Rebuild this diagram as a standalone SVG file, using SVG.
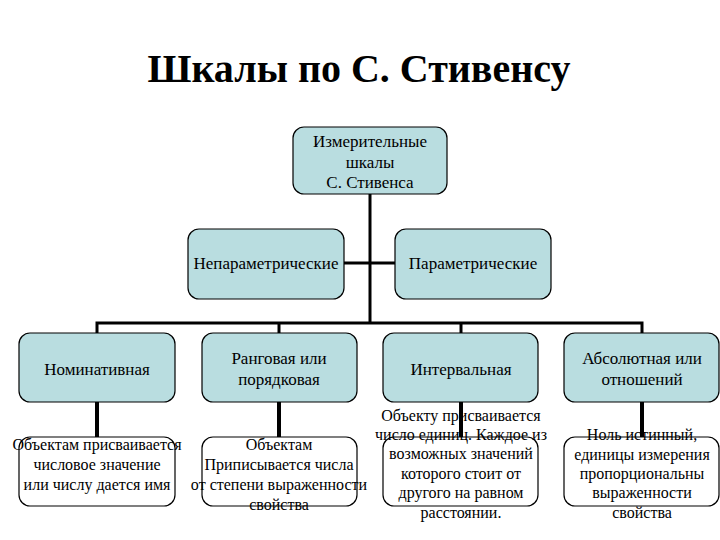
<svg xmlns="http://www.w3.org/2000/svg" width="720" height="540" viewBox="0 0 720 540">
<style>
text{font-family:'Liberation Serif','DejaVu Serif',serif;fill:#000;text-anchor:middle}
.t{font-size:40px;font-weight:bold}
.n{font-size:17px}
.d{font-size:16px}
.blue{fill:#B9DDE0;stroke:#000;stroke-width:1.2}
.white{fill:#fff;stroke:#000;stroke-width:1.2}
.c{stroke:#000;stroke-width:3;fill:none}
.c4{stroke:#000;stroke-width:4;fill:none}
</style>
<rect width="720" height="540" fill="#fff"/>
<text class="t" x="359" y="82">Шкалы по С. Стивенсу</text>
<g id="connectors">
<line class="c" x1="370" y1="194" x2="370" y2="323"/>
<line class="c" x1="344" y1="263" x2="395" y2="263"/>
<polyline class="c" points="97,333 97,323 642,323 642,333"/>
<line class="c" x1="279" y1="323" x2="279" y2="333"/>
<line class="c" x1="461" y1="323" x2="461" y2="333"/>
<line class="c4" x1="97" y1="402" x2="97" y2="437"/>
<line class="c4" x1="279" y1="402" x2="279" y2="437"/>
<line class="c4" x1="461" y1="402" x2="461" y2="437"/>
<line class="c4" x1="642" y1="402" x2="642" y2="437"/>
</g>
<g id="root">
<rect class="blue" x="293" y="127" width="154" height="67" rx="11"/>
<text class="n" x="370" y="147">Измерительные</text>
<text class="n" x="370" y="168">шкалы</text>
<text class="n" x="370" y="188">С. Стивенса</text>
</g>
<g id="nonparam">
<rect class="blue" x="188" y="229" width="156" height="70" rx="11"/>
<text class="n" x="266" y="269">Непараметрические</text>
</g>
<g id="param">
<rect class="blue" x="395" y="229" width="156" height="70" rx="11"/>
<text class="n" x="473" y="269">Параметрические</text>
</g>
<g id="nominal">
<rect class="blue" x="19" y="333" width="156" height="69" rx="11"/>
<text class="n" x="97" y="375">Номинативная</text>
</g>
<g id="rank">
<rect class="blue" x="202" y="333" width="155" height="69" rx="11"/>
<text class="n" x="279" y="364">Ранговая или</text>
<text class="n" x="279" y="385">порядковая</text>
</g>
<g id="interval">
<rect class="blue" x="383" y="333" width="155" height="69" rx="11"/>
<text class="n" x="461" y="375">Интервальная</text>
</g>
<g id="absolute">
<rect class="blue" x="564" y="333" width="155" height="69" rx="11"/>
<text class="n" x="642" y="364">Абсолютная или</text>
<text class="n" x="642" y="385">отношений</text>
</g>
<g id="nominal-desc">
<rect class="white" x="19" y="437" width="156" height="69" rx="11"/>
<text class="d" x="97" y="450">Объектам присваивается</text>
<text class="d" x="97" y="470">числовое значение</text>
<text class="d" x="97" y="490">или числу дается имя</text>
</g>
<g id="rank-desc">
<rect class="white" x="202" y="437" width="155" height="69" rx="11"/>
<text class="d" x="279" y="450">Объектам</text>
<text class="d" x="279" y="470">Приписывается числа</text>
<text class="d" x="279" y="490">от степени выраженности</text>
<text class="d" x="279" y="510">свойства</text>
</g>
<g id="interval-desc">
<rect class="white" x="383" y="437" width="155" height="69" rx="11"/>
<text class="d" x="461" y="421">Объекту присваивается</text>
<text class="d" x="461" y="440">число единиц. Каждое из</text>
<text class="d" x="461" y="459">возможных значений</text>
<text class="d" x="461" y="479">которого стоит от</text>
<text class="d" x="461" y="498">другого на равном</text>
<text class="d" x="461" y="518">расстоянии.</text>
</g>
<g id="absolute-desc">
<rect class="white" x="564" y="437" width="155" height="69" rx="11"/>
<text class="d" x="642" y="440">Ноль истинный,</text>
<text class="d" x="642" y="460">единицы измерения</text>
<text class="d" x="642" y="479">пропорциональны</text>
<text class="d" x="642" y="498">выраженности</text>
<text class="d" x="642" y="518">свойства</text>
</g>
</svg>
